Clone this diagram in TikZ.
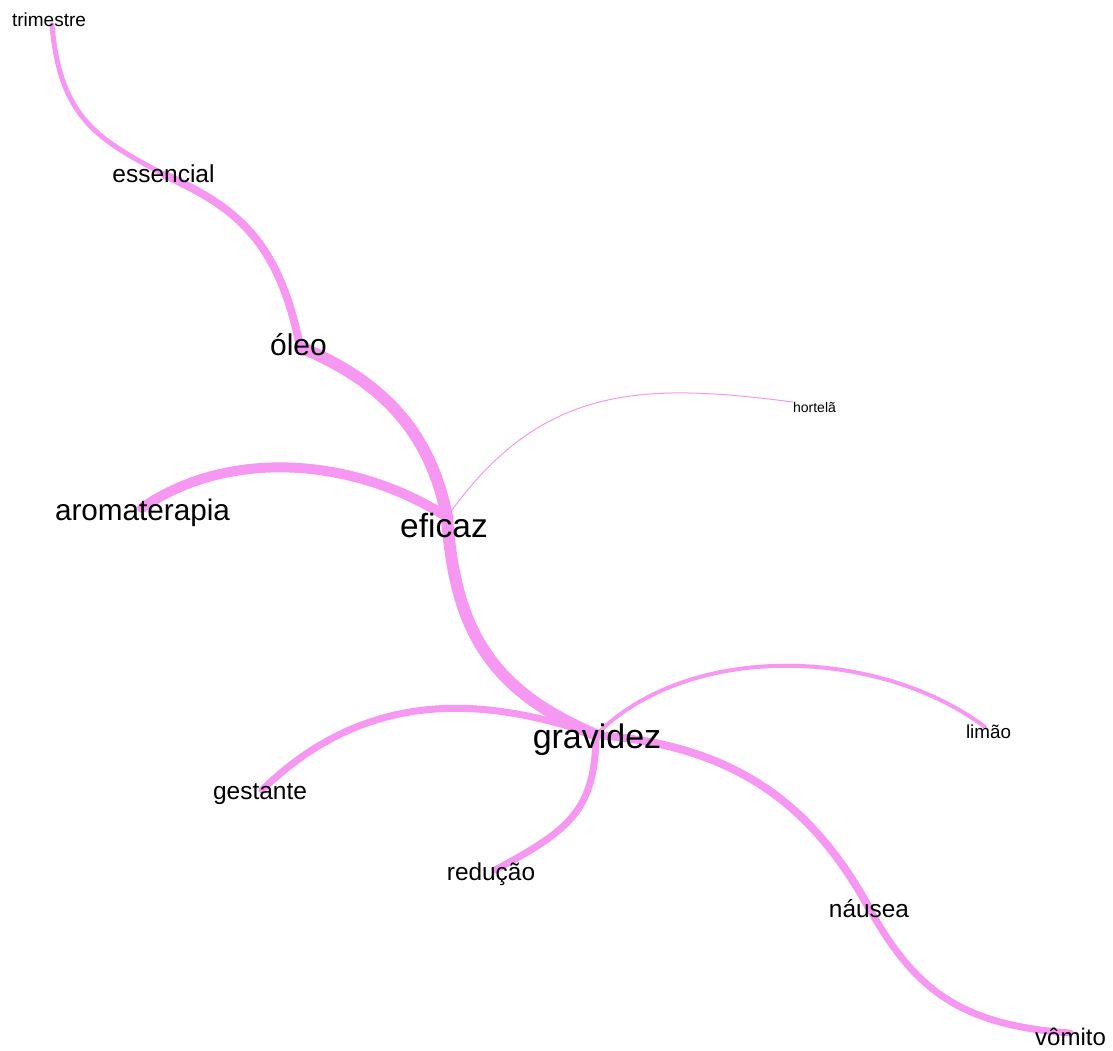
\documentclass[tikz,border=0pt]{standalone}
\usepackage{fontspec}
\setmainfont{Liberation Sans}
\definecolor{edgepink}{RGB}{246,152,242}
\begin{document}
\begin{tikzpicture}[x=1pt,y=-1pt,
  edge/.style={draw=edgepink,line cap=round,line join=round},
  word/.style={anchor=base,inner sep=0pt,text=black,font=\fontsize{#1}{#1}\selectfont}]
\useasboundingbox (0,0) rectangle (1113,1050);
\fill[white] (0,0) rectangle (1113,1050);

% vertex positions
\coordinate (v-trimestre) at (52,25);
\coordinate (v-essencial) at (165,175);
\coordinate (v-oleo) at (300,347);
\coordinate (v-eficaz) at (447,517);
\coordinate (v-aroma) at (142,508);
\coordinate (v-hortela) at (793,402);
\coordinate (v-gravidez) at (596,735);
\coordinate (v-gestante) at (262,790);
\coordinate (v-reducao) at (495,870);
\coordinate (v-limao) at (985,727);
\coordinate (v-nausea) at (869,908);
\coordinate (v-vomito) at (1070,1033);

% edges, width by association strength
\draw[edge,line width=5] (v-trimestre) .. controls (60,120) and (100,140) .. (v-essencial);
\draw[edge,line width=8] (v-essencial) .. controls (230,205) and (278,235) .. (v-oleo);
\draw[edge,line width=12] (v-oleo) .. controls (380,380) and (430,430) .. (v-eficaz);
\draw[edge,line width=10] (v-aroma) .. controls (225,450) and (350,455) .. (v-eficaz);
\draw[edge,line width=1] (v-eficaz) .. controls (540,385) and (640,382) .. (v-hortela);
\draw[edge,line width=12] (v-eficaz) .. controls (455,630) and (490,690) .. (v-gravidez);
\draw[edge,line width=7] (v-gravidez) .. controls (480,695) and (365,690) .. (v-gestante);
\draw[edge,line width=7] (v-gravidez) .. controls (595,810) and (570,830) .. (v-reducao);
\draw[edge,line width=4] (v-gravidez) .. controls (690,640) and (880,648) .. (v-limao);
\draw[edge,line width=8] (v-gravidez) .. controls (730,745) and (810,800) .. (v-nausea);
\draw[edge,line width=7] (v-nausea) .. controls (915,990) and (960,1025) .. (v-vomito);

% word labels
\node[word=19] (trimestre) at (49,26) {trimestre};
\node[word=24.5] (essencial) at (163.5,182) {essencial};
\node[word=30] (oleo) at (298.5,355) {óleo};
\node[word=29.7] (aromaterapia) at (142.5,520) {aromaterapia};
\node[word=33.5] (eficaz) at (444,537) {eficaz};
\node[word=14] (hortela) at (814.5,412) {hortelã};
\node[word=34] (gravidez) at (597,748) {gravidez};
\node[word=18.8] (limao) at (988.5,738) {limão};
\node[word=24.5] (gestante) at (260,799) {gestante};
\node[word=24.4] (reducao) at (491,880) {redução};
\node[word=24.4] (nausea) at (869,917) {náusea};
\node[word=24] (vomito) at (1070.5,1045) {vômito};
\end{tikzpicture}
\end{document}
